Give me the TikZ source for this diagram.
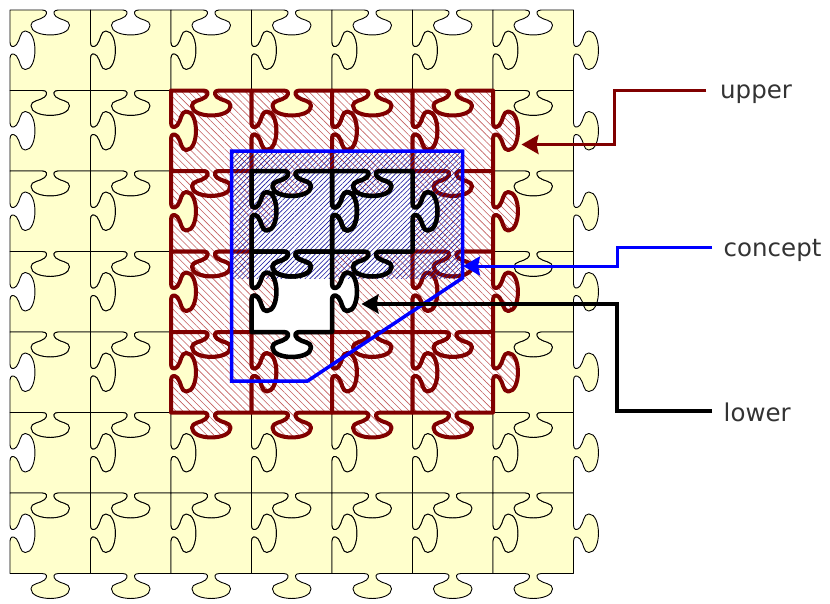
\documentclass[tikz,border=0pt]{standalone}
\usepackage{fontspec}
\setmainfont{DejaVu Sans}
\usetikzlibrary{patterns.meta,arrows.meta}
\definecolor{yel}{RGB}{255,255,204}
\definecolor{upc}{RGB}{128,0,0}
\definecolor{redhatch}{RGB}{195,95,95}
\definecolor{bluehatch}{RGB}{25,25,160}
\definecolor{conc}{RGB}{0,0,255}
\definecolor{txt}{RGB}{51,51,51}
\newcommand\jig{(0,0) -- (0.40,0) .. controls (0.46,0) and (0.47,0.04) .. (0.43,0.08) .. controls (0.37,0.13) and (0.26,0.12) .. (0.26,0.19) .. controls (0.26,0.27) and (0.38,0.31) .. (0.50,0.31) .. controls (0.62,0.31) and (0.74,0.27) .. (0.74,0.19) .. controls (0.74,0.12) and (0.63,0.13) .. (0.57,0.08) .. controls (0.53,0.04) and (0.54,0) .. (0.60,0) -- (1,0)
 -- (1,0.40) .. controls (1,0.46) and (1.04,0.47) .. (1.08,0.43) .. controls (1.13,0.37) and (1.12,0.26) .. (1.19,0.26) .. controls (1.27,0.26) and (1.31,0.38) .. (1.31,0.50) .. controls (1.31,0.62) and (1.27,0.74) .. (1.19,0.74) .. controls (1.12,0.74) and (1.13,0.63) .. (1.08,0.57) .. controls (1.04,0.53) and (1,0.54) .. (1,0.60) -- (1,1)
 -- (0.60,1) .. controls (0.54,1) and (0.53,1.04) .. (0.57,1.08) .. controls (0.63,1.13) and (0.74,1.12) .. (0.74,1.19) .. controls (0.74,1.27) and (0.62,1.31) .. (0.50,1.31) .. controls (0.38,1.31) and (0.26,1.27) .. (0.26,1.19) .. controls (0.26,1.12) and (0.37,1.13) .. (0.43,1.08) .. controls (0.47,1.04) and (0.46,1) .. (0.40,1) -- (0,1)
 -- (0,0.60) .. controls (0,0.54) and (0.04,0.53) .. (0.08,0.57) .. controls (0.13,0.63) and (0.12,0.74) .. (0.19,0.74) .. controls (0.27,0.74) and (0.31,0.62) .. (0.31,0.50) .. controls (0.31,0.38) and (0.27,0.26) .. (0.19,0.26) .. controls (0.12,0.26) and (0.13,0.37) .. (0.08,0.43) .. controls (0.04,0.47) and (0,0.46) .. (0,0.40) -- cycle}
\tikzset{
  at piece/.style 2 args={shift={({10+80.5*#1},{10+80.5*#2})}, x=80.5pt, y=-80.5pt},
  ypiece/.style={fill=yel, draw=black, line width=0.9pt, line join=round},
  upiece/.style={draw=upc, line width=4pt, line join=round, preaction={fill=white},
    pattern={Lines[angle=-45,distance=5pt,line width=0.6pt]}, pattern color=redhatch},
  lowborder/.style={draw=black, line width=4.5pt, line join=round},
  lbl/.style={font=\fontsize{24.5}{30}\selectfont, text=txt, inner sep=0pt, anchor=base west},
  conn/.style={line width=3pt, -{Stealth[length=17pt,width=19pt,inset=2pt]}},
}
\begin{document}
\begin{tikzpicture}[x=1pt,y=-1pt]
\useasboundingbox (0,0) rectangle (830,603);
% all pieces
\foreach \i in {0,...,6}{\foreach \j in {0,...,6}{
  \draw[ypiece, at piece={\i}{\j}] \jig;}}
% upper approximation
\foreach \i in {2,...,5}{\foreach \j in {1,...,4}{
  \draw[upiece, at piece={\i}{\j}] \jig;}}
% lower approximation (fill)
\fill[white, at piece={3}{2}] \jig;
\fill[white, at piece={4}{2}] \jig;
\fill[white, at piece={3}{3}] \jig;
% concept hatch
\fill[pattern={Lines[angle=45,distance=3.4pt,line width=0.6pt]}, pattern color=bluehatch]
  (231.5,151) rectangle (462.5,278);
% lower borders
\draw[lowborder, at piece={3}{2}] \jig;
\draw[lowborder, at piece={4}{2}] \jig;
\draw[lowborder, at piece={3}{3}] \jig;
% concept outline
\draw[conc, line width=3.5pt] (231.5,151) -- (462.5,151) -- (462.5,278) -- (307.5,381) -- (231.5,381) -- cycle;
% labels and connectors
\node[lbl] (upper) at (720,98.3) {upper};
\node[lbl] (concept) at (723.5,256.7) {concept};
\node[lbl] (lower) at (723.5,421.7) {lower};
\coordinate (uS) at (706,90);
\coordinate (uK) at (614,144.5);
\coordinate (uT) at (521.5,144.5);
\coordinate (cS) at (712,247);
\coordinate (cK) at (617,266);
\coordinate (cT) at (463,266);
\coordinate (lS) at (712,411);
\coordinate (lK) at (617,304);
\coordinate (lT) at (361.5,304);
\draw[conn, upc] (uS) -| (uK) -- (uT);
\draw[conn, conc] (cS) -| (cK) -- (cT);
\draw[conn, black, line width=3.5pt] (lS) -| (lK) -- (lT);
\end{tikzpicture}
\end{document}
